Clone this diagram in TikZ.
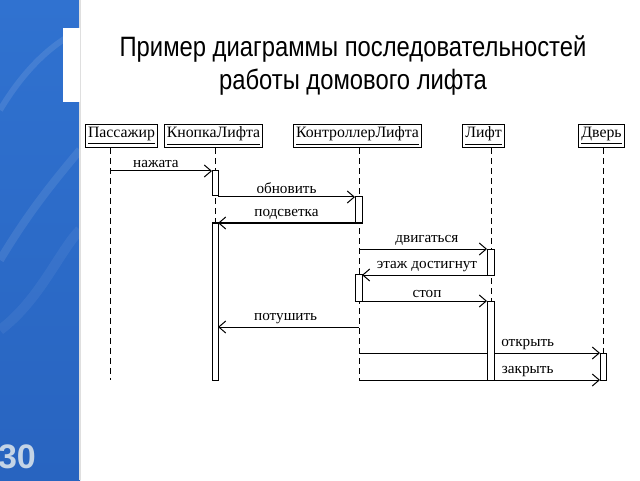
\documentclass[tikz,border=0pt]{standalone}
\usepackage{fontspec}
\setmainfont{Liberation Serif}
\newfontfamily\titlefont[FakeStretch=0.85]{Liberation Sans}
\newfontfamily\numfont{Liberation Sans}
\usetikzlibrary{arrows.meta,positioning,fit,backgrounds}
\definecolor{strip}{RGB}{48,114,208}
\definecolor{stripdk}{RGB}{40,100,192}
\definecolor{numcol}{RGB}{196,212,230}
\tikzset{
  obj/.style ={draw,line width=0.5pt,inner sep=1.3pt,minimum height=9.5pt,font=\fontsize{7.9}{9}\selectfont},
  act/.style ={draw,fill=white,line width=0.5pt,inner sep=0pt,outer sep=0pt},
  life/.style={line width=0.5pt,dash pattern=on 3pt off 2pt},
  msg/.style ={line width=0.5pt,-{Straight Barb[length=3.5pt,width=6pt]}},
  lbl/.style ={above,inner sep=1.6pt,font=\fontsize{7.6}{9}\selectfont},
  ttl/.style ={align=center,font=\titlefont\fontsize{14}{16.5}\selectfont},
}
\begin{document}
\begin{tikzpicture}[x=0.5pt,y=-0.5pt]
  \useasboundingbox (0,0) rectangle (640,480);
  % left strip
  \shade[top color=strip,bottom color=stripdk] (0,0) rectangle (80,480);
  \draw[white,opacity=0.10,line width=3pt] (0,110) .. controls (30,60) and (60,40) .. (80,30);
  \draw[white,opacity=0.09,line width=4pt] (0,260) .. controls (30,210) and (55,180) .. (80,150);
  \draw[white,opacity=0.06,line width=5pt] (0,330) .. controls (40,300) and (60,250) .. (80,230);
  \draw[gray!25,line width=1pt] (79.5,0) -- (79.5,480);
  \fill[white] (63,28) rectangle (80,102);
  \node[font=\numfont\bfseries\fontsize{17}{17}\selectfont,text=numcol] (num) at (17,457) {30};

  \node[ttl] (title) at (353,66) {Пример диаграммы последовательностей\\работы домового лифта};

  % objects
  \node[obj] (pas)  at (121.5,136) {\underline{Пассажир}};
  \node[obj] (btn)  at (213.5,136) {\underline{КнопкаЛифта}};
  \node[obj] (ctl)  at (357.5,136) {\underline{КонтроллерЛифта}};
  \node[obj] (lift) at (483.5,136) {\underline{Лифт}};
  \node[obj] (door) at (601.5,136) {\underline{Дверь}};

  \coordinate (pasE)  at (110,380);
  \coordinate (btnE)  at (215,380);
  \coordinate (ctlE)  at (359,380);
  \coordinate (liftE) at (491,380);
  \coordinate (doorE) at (603,380);

  % activations
  \node[act,fit={(212,171) (218,196)}] (btn1)  {};
  \node[act,fit={(212,223) (218,380)}] (btn2)  {};
  \node[act,fit={(355,197) (362,223)}] (ctl1)  {};
  \node[act,fit={(355,274) (362,301)}] (ctl2)  {};
  \node[act,fit={(487,249) (494,275)}] (lift1) {};
  \node[act,fit={(487,301) (494,380)}] (lift2) {};
  \node[act,fit={(600,353) (606,380)}] (door1) {};

  \begin{scope}[on background layer]
    \draw[life] (pas.south -| pasE) -- (pasE);
    \draw[life] (btn.south -| btnE) -- (btnE);
    \draw[life] (ctl.south -| ctlE) -- (ctlE);
    \draw[life] (lift.south -| liftE) -- (liftE);
    \draw[life] (door.south -| doorE) -- (doorE);

    \draw[msg] (btn1.north west -| pasE) -- (btn1.north west) node[lbl,pos=0.45] {нажата};
    \draw[msg] (ctl1.north west -| btn1.east) -- (ctl1.north west) node[lbl,midway] {обновить};
    \draw[msg] (ctl1.south west) -- (btn2.north east) node[lbl,midway] {подсветка};
    \draw[msg] (lift1.north west -| ctlE) -- (lift1.north west) node[lbl,pos=0.53] {двигаться};
    \draw[msg] (lift1.south west) -- (ctl2.east |- lift1.south west) node[lbl,pos=0.48] {этаж достигнут};
    \draw[msg] (ctl2.south east) -- (lift2.north west) node[lbl,pos=0.52] {стоп};
    \coordinate (off) at (359,327);
    \draw[msg] (off) -- (off -| btn2.east) node[lbl,pos=0.52] {потушить};
    \draw[msg] (door1.north west -| ctlE) -- (door1.north west) node[lbl,pos=0.7] {открыть};
    \draw[msg] (door1.south west -| ctlE) -- (door1.south west) node[lbl,pos=0.7] {закрыть};
  \end{scope}
\end{tikzpicture}
\end{document}
